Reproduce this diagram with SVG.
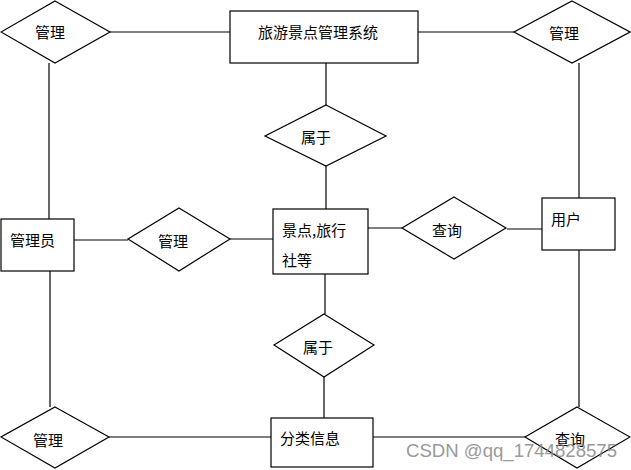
<svg xmlns="http://www.w3.org/2000/svg" width="631" height="470" viewBox="0 0 631 470">
<style>
.s{fill:#fff;stroke:#000;stroke-width:1.2}
.l{stroke:#000;stroke-width:1.2;fill:none}
.t{font-family:"Noto Sans CJK SC","Liberation Sans",sans-serif;font-size:15px;fill:#000}
.c{text-anchor:middle}
.w{font-family:"Liberation Sans",sans-serif;font-size:18px;fill:#888;opacity:0.85}
</style>
<rect width="631" height="470" fill="#fff"/>
<g id="connectors">
<line class="l" x1="110" y1="32" x2="230" y2="32"/>
<line class="l" x1="418" y1="32" x2="514" y2="32"/>
<line class="l" x1="326" y1="63" x2="326" y2="105"/>
<line class="l" x1="326" y1="166" x2="326" y2="209"/>
<line class="l" x1="49" y1="63" x2="49" y2="219"/>
<line class="l" x1="579" y1="63" x2="579" y2="198"/>
<line class="l" x1="74" y1="240" x2="128" y2="240"/>
<line class="l" x1="230" y1="239" x2="273" y2="239"/>
<line class="l" x1="368" y1="228" x2="402" y2="228"/>
<line class="l" x1="507" y1="229" x2="542" y2="229"/>
<line class="l" x1="325" y1="274" x2="325" y2="314"/>
<line class="l" x1="50" y1="271" x2="50" y2="407"/>
<line class="l" x1="579" y1="250" x2="579" y2="407"/>
<line class="l" x1="324" y1="377" x2="324" y2="418"/>
<line class="l" x1="109" y1="437" x2="271" y2="437"/>
<line class="l" x1="373" y1="437" x2="525" y2="437"/>
</g>
<g id="manage-top-left"><polygon class="s" points="55,1 110,32 55,63 1,32"/><text class="t c" x="50" y="38">管理</text></g>
<g id="system"><rect class="s" x="230" y="11" width="188" height="52"/><text class="t c" x="318" y="38">旅游景点管理系统</text></g>
<g id="manage-top-right"><polygon class="s" points="572,1 630,32 572,63 514,32"/><text class="t c" x="564" y="39">管理</text></g>
<g id="belong-top"><polygon class="s" points="326,105 386,136 326,166 265,136"/><text class="t c" x="316" y="143">属于</text></g>
<g id="admin"><rect class="s" x="1" y="219" width="73" height="52"/><text class="t" x="10" y="246">管理员</text></g>
<g id="manage-mid"><polygon class="s" points="179,208 230,239 179,271 128,239"/><text class="t c" x="173" y="247">管理</text></g>
<g id="spots"><rect class="s" x="273" y="209" width="95" height="65"/><text class="t" x="282" y="236">景点,旅行</text><text class="t" x="282" y="266">社等</text></g>
<g id="query-mid"><polygon class="s" points="454,197 506,228 454,259 402,228"/><text class="t c" x="447" y="236">查询</text></g>
<g id="user"><rect class="s" x="542" y="198" width="73" height="52"/><text class="t" x="551" y="225">用户</text></g>
<g id="belong-bottom"><polygon class="s" points="324,314 374,345 324,377 274,345"/><text class="t c" x="318" y="353">属于</text></g>
<g id="category"><rect class="s" x="271" y="418" width="102" height="49"/><text class="t" x="280" y="444">分类信息</text></g>
<g id="manage-bottom"><polygon class="s" points="55,407 109,437 55,468 1,437"/><text class="t c" x="48" y="446">管理</text></g>
<g id="query-bottom"><polygon class="s" points="577,407 630,437 577,468 525,437"/><text class="t c" x="570" y="445">查询</text></g>
<text class="w" x="406" y="457" textLength="211" lengthAdjust="spacingAndGlyphs">CSDN @qq_1744828575</text>
</svg>
